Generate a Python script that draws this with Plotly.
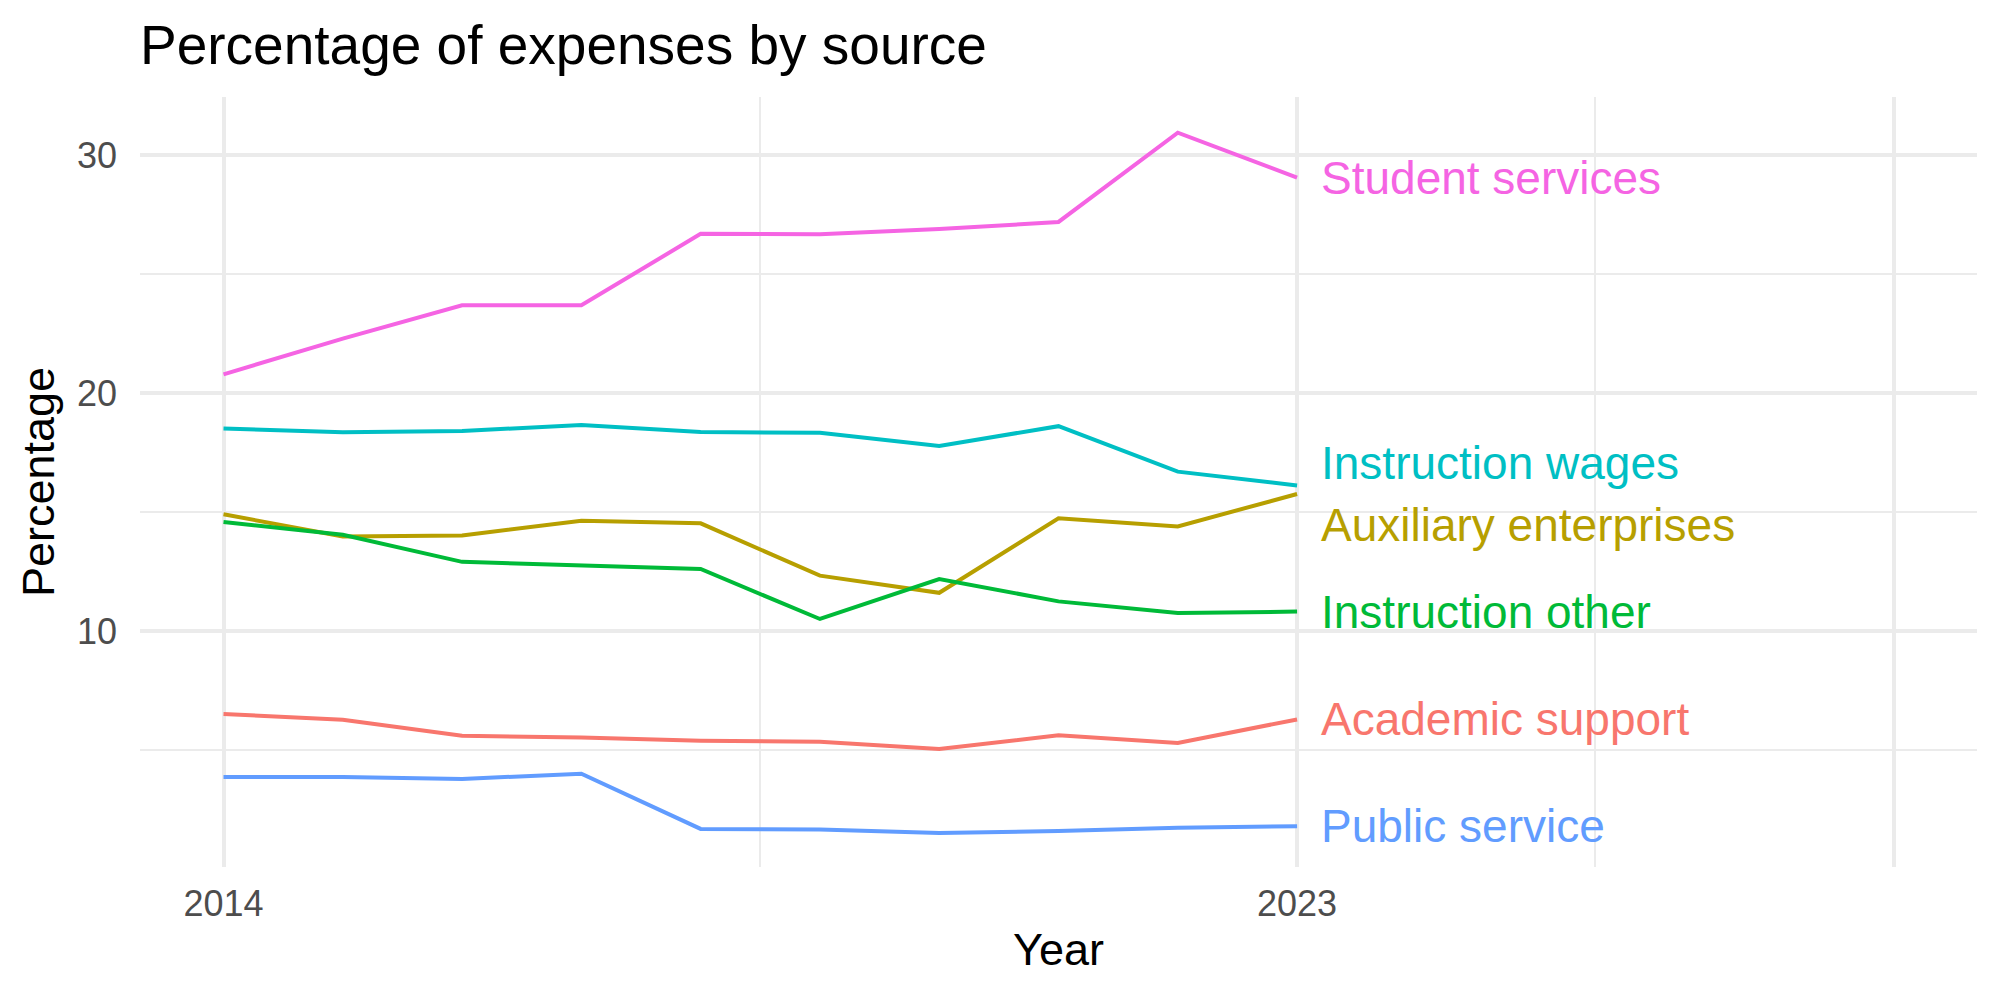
import plotly.graph_objects as go

years = [2014, 2015, 2016, 2017, 2018, 2019, 2020, 2021, 2022, 2023]

academic_support = [6.53, 6.29, 5.61, 5.54, 5.40, 5.36, 5.06, 5.63, 5.31, 6.30]
auxiliary_enterprises = [14.92, 13.99, 14.03, 14.65, 14.54, 12.34, 11.62, 14.75, 14.41, 15.77]
instruction_other = [14.59, 14.06, 12.92, 12.76, 12.62, 10.52, 12.20, 11.26, 10.77, 10.83]
instruction_wages = [18.52, 18.36, 18.42, 18.67, 18.38, 18.34, 17.79, 18.62, 16.71, 16.13]
public_service = [3.88, 3.88, 3.80, 4.02, 1.70, 1.68, 1.53, 1.61, 1.75, 1.81]
student_services = [20.8, 22.3, 23.7, 23.7, 26.7, 26.68, 26.9, 27.2, 30.95, 29.06]

series_names = ["Academic support", "Auxiliary enterprises", "Instruction other",
                "Instruction wages", "Public service", "Student services"]
series_values = [academic_support, auxiliary_enterprises, instruction_other,
                 instruction_wages, public_service, student_services]
# label vertical positions (repelled where labels would overlap)
label_y = [6.30, 14.46, 10.83, 17.06, 1.81, 29.06]

colors = ["#F8766D", "#B79F00", "#00BA38", "#00BFC4", "#619CFF", "#F564E3"]

x_tickvals = [2014, 2023, 2028]
x_ticktext = ["2014", "2023", ""]
x_minor = [2018.5, 2025.5]
y_tickvals = [10, 20, 30]
y_minor = [5, 15, 25]

FONT = "Liberation Sans, Arial, Helvetica, sans-serif"
GRID = "#EBEBEB"

fig = go.Figure()
for name, vals, col in zip(series_names, series_values, colors):
    fig.add_trace(go.Scatter(x=years, y=vals, mode="lines", name=name,
                             line=dict(color=col, width=4), showlegend=False,
                             hoverinfo="skip"))

for name, ly, col in zip(series_names, label_y, colors):
    fig.add_annotation(x=years[-1], y=ly, text=name, showarrow=False,
                       xanchor="left", yanchor="middle", xshift=22,
                       font=dict(family=FONT, size=46, color=col))

fig.update_layout(
    width=2000, height=1000,
    paper_bgcolor="white", plot_bgcolor="white",
    margin=dict(l=140, r=23, t=97, b=133),
    title=dict(text="Percentage of expenses by source", x=0, xref="paper",
               xanchor="left", y=0.955, yref="container", yanchor="middle",
               font=dict(family=FONT, size=55, color="black")),
    xaxis=dict(range=[2013.3, 2028.7], tickmode="array", tickvals=x_tickvals,
               ticktext=x_ticktext, showgrid=True, gridcolor=GRID, gridwidth=4,
               zeroline=False, showline=False, ticks="", ticklabelstandoff=12,
               tickfont=dict(family=FONT, size=36, color="#4D4D4D"),
               minor=dict(tickmode="array", tickvals=x_minor, showgrid=True,
                          gridcolor=GRID, gridwidth=2),
               title=dict(text="Year", standoff=10,
                          font=dict(family=FONT, size=45, color="black"))),
    yaxis=dict(range=[0.1, 32.45], tickmode="array", tickvals=y_tickvals,
               showgrid=True, gridcolor=GRID, gridwidth=4,
               zeroline=False, showline=False, ticks="", ticklabelstandoff=22,
               tickfont=dict(family=FONT, size=36, color="#4D4D4D"),
               minor=dict(tickmode="array", tickvals=y_minor, showgrid=True,
                          gridcolor=GRID, gridwidth=2),
               title=dict(text="Percentage", standoff=8,
                          font=dict(family=FONT, size=45, color="black"))),
)

fig.write_html("out.html")
